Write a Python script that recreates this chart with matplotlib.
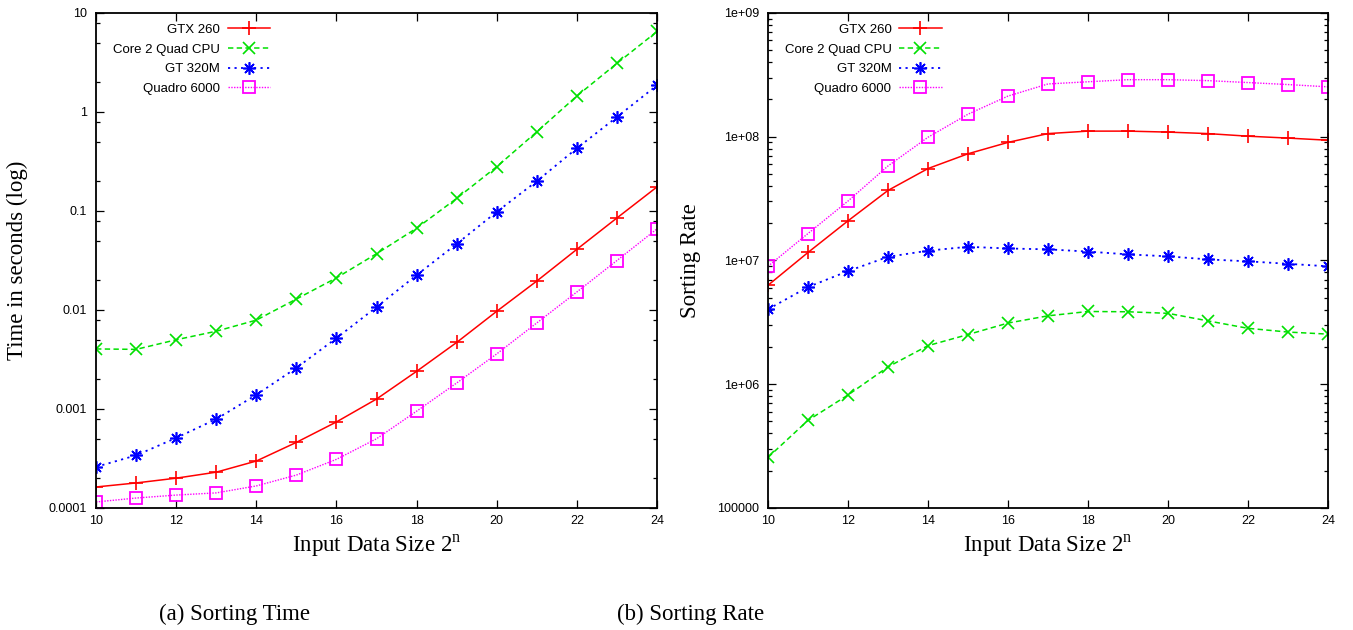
import numpy as np
import matplotlib
matplotlib.use("Agg")
import matplotlib.pyplot as plt
from matplotlib.ticker import LogLocator, FixedFormatter, NullFormatter

plt.rcParams['font.family'] = ['Liberation Sans', 'DejaVu Sans']
plt.rcParams['mathtext.fontset'] = 'custom'
plt.rcParams['mathtext.rm'] = 'Liberation Serif'

# input size exponent: 2^n elements
n = [10, 11, 12, 13, 14, 15, 16, 17, 18, 19, 20, 21, 22, 23, 24]

# sorting time in seconds
time_gtx260 = [1.63e-4, 1.79e-4, 2.0e-4, 2.3e-4, 2.98e-4, 4.6e-4, 7.4e-4, 1.26e-3,
               2.4e-3, 4.7e-3, 9.7e-3, 0.0196, 0.041, 0.085, 0.175]
time_core2 = [4.04e-3, 4.0e-3, 5.0e-3, 6.1e-3, 7.9e-3, 0.0129, 0.0211, 0.037,
              0.067, 0.134, 0.28, 0.63, 1.45, 3.1, 6.5]
time_gt320m = [2.6e-4, 3.4e-4, 5.1e-4, 7.9e-4, 1.39e-3, 2.6e-3, 5.2e-3, 0.0107,
               0.0225, 0.0465, 0.098, 0.2, 0.43, 0.89, 1.86]
time_quadro = [1.15e-4, 1.26e-4, 1.35e-4, 1.42e-4, 1.67e-4, 2.15e-4, 3.1e-4, 5.0e-4,
               9.5e-4, 1.83e-3, 3.6e-3, 7.4e-3, 0.0152, 0.0316, 0.066]

# sorting rate in elements per second
rate_gtx260 = [6.3e6, 1.16e7, 2.09e7, 3.68e7, 5.53e7, 7.28e7, 9.0e7, 1.06e8,
               1.11e8, 1.11e8, 1.09e8, 1.06e8, 1.01e8, 9.75e7, 9.37e7]
rate_core2 = [2.56e5, 5.1e5, 8.18e5, 1.38e6, 2.05e6, 2.52e6, 3.12e6, 3.57e6,
              3.87e6, 3.85e6, 3.74e6, 3.25e6, 2.83e6, 2.64e6, 2.54e6]
rate_gt320m = [4.03e6, 6.1e6, 8.2e6, 1.07e7, 1.20e7, 1.29e7, 1.25e7, 1.23e7,
               1.18e7, 1.12e7, 1.08e7, 1.02e7, 9.84e6, 9.4e6, 8.97e6]
rate_quadro = [8.97e6, 1.65e7, 3.02e7, 5.8e7, 9.9e7, 1.52e8, 2.13e8, 2.67e8,
               2.78e8, 2.89e8, 2.89e8, 2.84e8, 2.74e8, 2.64e8, 2.53e8]

labels = ['GTX 260', 'Core 2 Quad CPU', 'GT 320M', 'Quadro 6000']
x_ticks = [10, 12, 14, 16, 18, 20, 22, 24]
time_ticks = [1e-4, 1e-3, 1e-2, 1e-1, 1, 10]
time_ticklabels = ['0.0001', '0.001', '0.01', '0.1', '1', '10']
rate_ticks = [1e5, 1e6, 1e7, 1e8, 1e9]
rate_ticklabels = ['100000', '1e+06', '1e+07', '1e+08', '1e+09']

# gnuplot-like line styles
styles = [
    dict(color='#ff0000', ls='-', lw=1.1, marker='+', ms=9.5, mew=1.2),
    dict(color='#00e000', ls=(0, (3.5, 2.2)), lw=1.1, marker='x', ms=8, mew=1.2),
    dict(color='#0000ff', ls=(0, (1.2, 2.4)), lw=1.3, marker=(8, 2, 0), ms=9, mew=1.2),
    dict(color='#ff00ff', ls=(0, (1, 1)), lw=1.0, marker='s', ms=8.5, mew=1.3,
         mfc='none'),
]

serif = ['Liberation Serif', 'DejaVu Serif']

fig = plt.figure(figsize=(13.53, 6.3), dpi=100)
ax1 = fig.add_axes([0.0710, 0.1937, 0.4146, 0.7857])
ax2 = fig.add_axes([0.5676, 0.1937, 0.4139, 0.7857])


def draw(ax, series, ticks, ticklabels, minor_subs, ylim, ylabel, ylab_x):
    for ys, st, lab in zip(series, styles, labels):
        ax.plot(n, ys, label=lab, **st)
    ax.set_yscale('log')
    ax.set_xlim(10, 24)
    ax.set_ylim(*ylim)
    ax.set_xticks(x_ticks)
    ax.set_yticks(ticks)
    ax.yaxis.set_major_formatter(FixedFormatter(ticklabels))
    ax.yaxis.set_minor_locator(LogLocator(base=10, subs=minor_subs))
    ax.yaxis.set_minor_formatter(NullFormatter())
    ax.tick_params(which='both', direction='in', top=True, right=True,
                   labelsize=9, width=0.9)
    ax.tick_params(which='major', length=6)
    ax.tick_params(which='minor', length=3)
    ax.tick_params(axis='y', pad=6.5)
    ax.tick_params(axis='x', pad=5)
    for sp in ax.spines.values():
        sp.set_linewidth(1.3)
    ax.set_xlabel(r'Input Data Size 2$^{\mathrm{n}}$', fontsize=16.5,
                  family=serif, va='baseline')
    ax.xaxis.set_label_coords(0.5, -0.089)
    ax.set_ylabel(ylabel, fontsize=16.5, family=serif, va='center')
    ax.yaxis.set_label_coords(ylab_x, 0.5)
    ax.legend(loc='upper right', bbox_to_anchor=(0.31, 0.978),
              markerfirst=False, frameon=False, fontsize=9.5, numpoints=1,
              handlelength=3.2, handletextpad=0.6, labelspacing=0.56,
              borderpad=0, borderaxespad=0)


draw(ax1, [time_gtx260, time_core2, time_gt320m, time_quadro],
     time_ticks, time_ticklabels, [2, 5, 8], (1e-4, 10),
     'Time in seconds (log)', -0.141)
draw(ax2, [rate_gtx260, rate_core2, rate_gt320m, rate_quadro],
     rate_ticks, rate_ticklabels, np.arange(2, 10), (1e5, 1e9),
     'Sorting Rate', -0.1375)

fig.text(159 / 1353, 0.0254, '(a) Sorting Time', fontsize=16.5, family=serif,
         ha='left', va='center')
fig.text(617 / 1353, 0.0254, '(b) Sorting Rate', fontsize=16.5, family=serif,
         ha='left', va='center')

fig.savefig('out.png', dpi=100)
